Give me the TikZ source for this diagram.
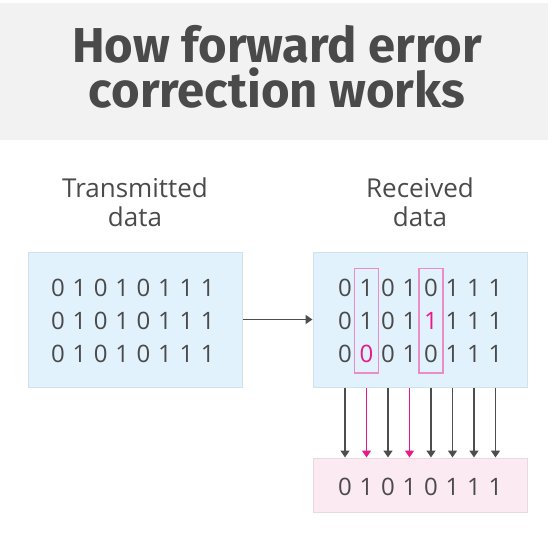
\documentclass[tikz,border=0pt]{standalone}
\usepackage{fontspec}
\setmainfont{Open Sans}
\newfontfamily\titlefont{Fira Sans}
\usepackage{xcolor}
\definecolor{colTitleBg}{HTML}{F2F2F2}
\definecolor{colText}{HTML}{4A4A4A}
\definecolor{colBox}{HTML}{E1F2FC}
\definecolor{colBoxLine}{HTML}{D2E2EC}
\definecolor{colFix}{HTML}{FCEAF2}
\definecolor{colFixLine}{HTML}{E9D8E0}
\definecolor{colErr}{HTML}{E8198B}
\definecolor{colErrLine}{HTML}{EC8CC4}
\definecolor{colArrow}{HTML}{4D4D4D}
\usetikzlibrary{arrows.meta, positioning, calc, fit}
\newcommand{\errbit}[1]{\textcolor{colErr}{#1}}

\begin{document}
\begin{tikzpicture}[x=1pt, y=-1pt,
    bit/.style={font=\fontsize{24}{28}\selectfont, text=colText, inner sep=0pt, anchor=center},
    lbl/.style={font=\fontsize{26}{29}\selectfont, text=colText, align=center},
    databox/.style={draw=colBoxLine, fill=colBox, line width=1pt, minimum width=214pt, minimum height=135pt, inner sep=0pt},
    fixbox/.style={draw=colFixLine, fill=colFix, line width=1pt, minimum width=214pt, minimum height=54pt, inner sep=0pt},
    errcol/.style={draw=colErrLine, line width=1.2pt, inner xsep=5pt, inner ysep=10pt},
    flow/.style={line width=1.4pt, -{Triangle[length=7pt, width=9pt]}}]
  \useasboundingbox (0,0) rectangle (554,540);
  % title band
  \fill[colTitleBg] (0,3) rectangle (548,140);
  \node[font=\titlefont\bfseries\fontsize{49}{45}\selectfont, text=colText, align=center] (title) at (277,67) {How forward error\\correction works};
  % labels
  \node[lbl] (sentLbl) at (135,202) {Transmitted\\data};
  \node[lbl] (recvLbl) at (420,202) {Received\\data};
  % boxes
  \node[databox] (sent) at (135,319.5) {};
  \node[databox] (recv) at (420,319.5) {};
  \node[fixbox] (fixed) at (420,485) {};
  % transmitted bits
  \foreach \r/\y in {1/287.5, 2/321, 3/354}
    \foreach \b [count=\c] in {0,1,0,1,0,1,1,1}
      \node[bit] (s\r-\c) at ({58+21.4*(\c-1)}, \y) {\b};
  % received bits
  \foreach \r/\y/\bits in {1/287.5/{0,1,0,1,0,1,1,1}, 2/321/{0,1,0,1,\errbit{1},1,1,1}, 3/354/{0,\errbit{0},0,1,0,1,1,1}}
    \foreach \b [count=\c] in \bits
      \node[bit] (r\r-\c) at ({345+21.5*(\c-1)}, \y) {\b};
  % corrected bits
  \foreach \b [count=\c] in {0,1,0,1,0,1,1,1}
    \node[bit] (f\c) at ({345+21.5*(\c-1)}, 486.5) {\b};
  % parity columns
  \node[errcol, fit=(r1-2)(r3-2)] (chk2) {};
  \node[errcol, fit=(r1-5)(r3-5)] (chk5) {};
  % arrows
  \draw[flow, colArrow] (sent.east) -- (recv.west);
  \foreach \c/\col in {1/colArrow, 2/colErr, 3/colArrow, 4/colErr, 5/colArrow, 6/colArrow, 7/colArrow, 8/colArrow}
    \draw[flow, \col] (recv.south -| f\c) -- (fixed.north -| f\c);
\end{tikzpicture}
\end{document}
